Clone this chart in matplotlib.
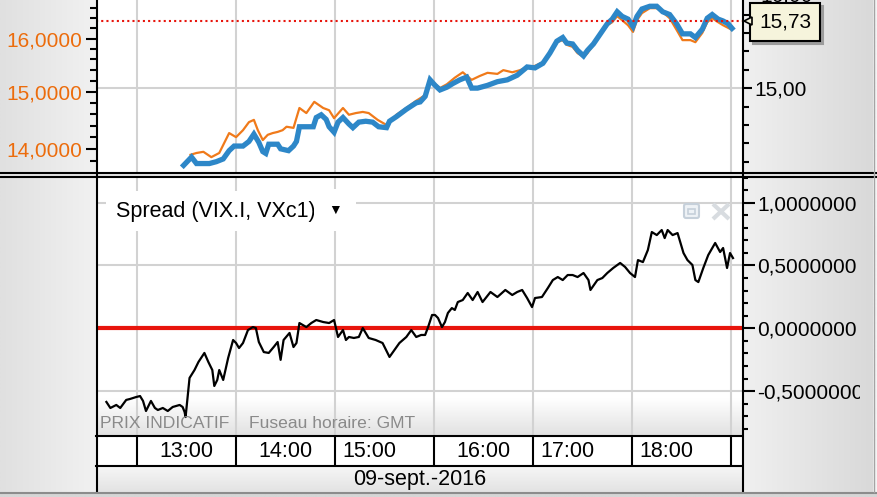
import numpy as np
import matplotlib
matplotlib.use("Agg")
import matplotlib.pyplot as plt
from matplotlib.colors import to_rgb
from matplotlib.patches import FancyBboxPatch
from matplotlib.ticker import FixedLocator, FuncFormatter, NullFormatter
from matplotlib.transforms import Bbox, blended_transform_factory, offset_copy

plt.rcParams['font.family'] = ['Liberation Sans', 'DejaVu Sans']

# --- values (time in decimal hours, GMT) ---
vix_time = [
    13.47, 13.55, 13.60, 13.73, 13.80, 13.87, 13.93, 13.98, 14.07, 14.13,
    14.18, 14.23, 14.27, 14.30, 14.33, 14.42, 14.45, 14.53, 14.58, 14.61,
    14.64, 14.78, 14.81, 14.86, 14.91, 14.94, 14.99, 15.03, 15.08, 15.14,
    15.18, 15.24, 15.31, 15.38, 15.44, 15.52, 15.55, 15.62, 15.72, 15.82,
    15.86, 15.91, 15.96, 16.01, 16.06, 16.13, 16.19, 16.26, 16.33, 16.38,
    16.44, 16.54, 16.64, 16.74, 16.84, 16.94, 17.02, 17.10, 17.17, 17.24,
    17.30, 17.34, 17.40, 17.45, 17.51, 17.55, 17.61, 17.68, 17.75, 17.80,
    17.85, 17.90, 17.96, 18.01, 18.05, 18.10, 18.18, 18.25, 18.31, 18.38,
    18.45, 18.51, 18.59, 18.64, 18.71, 18.76, 18.81, 18.87, 18.92, 18.97,
    19.01,
]
vix_price = [
    14.16, 14.25, 14.18, 14.18, 14.20, 14.23, 14.32, 14.37, 14.37, 14.42,
    14.50, 14.41, 14.31, 14.29, 14.39, 14.39, 14.34, 14.32, 14.37, 14.42,
    14.58, 14.58, 14.68, 14.71, 14.66, 14.58, 14.52, 14.63, 14.68, 14.61,
    14.57, 14.63, 14.64, 14.63, 14.58, 14.57, 14.64, 14.69, 14.77, 14.84,
    14.85, 14.91, 15.09, 15.03, 14.98, 15.01, 15.05, 15.09, 15.12, 15.00,
    15.00, 15.03, 15.07, 15.09, 15.14, 15.23, 15.22, 15.27, 15.38, 15.51,
    15.55, 15.49, 15.48, 15.41, 15.35, 15.41, 15.48, 15.59, 15.70, 15.75,
    15.83, 15.78, 15.75, 15.67, 15.78, 15.86, 15.89, 15.89, 15.83, 15.80,
    15.70, 15.59, 15.59, 15.55, 15.64, 15.76, 15.80, 15.75, 15.73, 15.70,
    15.65,
]
vx1_time = [
    13.54, 13.60, 13.67, 13.75, 13.83, 13.93, 14.00, 14.07, 14.13, 14.18,
    14.22, 14.27, 14.32, 14.37, 14.42, 14.47, 14.51, 14.58, 14.64, 14.71,
    14.79, 14.88, 14.94, 14.99, 15.08, 15.14, 15.21, 15.28, 15.34, 15.43,
    15.52, 15.62, 15.72, 15.82, 15.91, 15.96, 16.06, 16.13, 16.21, 16.29,
    16.38, 16.46, 16.54, 16.64, 16.70, 16.79, 16.87, 16.94, 17.02, 17.10,
    17.17, 17.24, 17.30, 17.34, 17.40, 17.45, 17.51, 17.55, 17.61, 17.68,
    17.75, 17.80, 17.85, 17.90, 17.96, 18.01, 18.05, 18.10, 18.18, 18.25,
    18.31, 18.38, 18.45, 18.51, 18.59, 18.64, 18.71, 18.76, 18.81, 18.87,
    18.92, 18.97, 19.01,
]
vx1_price = [
    13.90, 13.93, 13.95, 13.86, 13.93, 14.27, 14.20, 14.32, 14.46, 14.50,
    14.32, 14.15, 14.24, 14.27, 14.29, 14.32, 14.38, 14.36, 14.71, 14.62,
    14.82, 14.71, 14.67, 14.53, 14.71, 14.59, 14.62, 14.64, 14.62, 14.50,
    14.41, 14.59, 14.71, 14.84, 14.94, 15.22, 15.07, 15.14, 15.26, 15.36,
    15.22, 15.29, 15.35, 15.33, 15.40, 15.36, 15.40, 15.46, 15.48, 15.55,
    15.72, 15.93, 15.97, 15.88, 15.84, 15.72, 15.65, 15.72, 15.88, 16.07,
    16.26, 16.32, 16.44, 16.36, 16.26, 16.13, 16.36, 16.50, 16.60, 16.60,
    16.52, 16.40, 16.17, 15.97, 15.97, 15.93, 16.11, 16.32, 16.40, 16.32,
    16.26, 16.21, 16.17,
]
spread_time = [
    12.69, 12.73, 12.79, 12.83, 12.89, 12.93, 12.99, 13.03, 13.06, 13.09,
    13.14, 13.18, 13.21, 13.26, 13.31, 13.36, 13.43, 13.46, 13.48, 13.49,
    13.53, 13.58, 13.62, 13.68, 13.72, 13.76, 13.78, 13.81, 13.83, 13.87,
    13.92, 13.97, 14.00, 14.03, 14.07, 14.12, 14.17, 14.20, 14.23, 14.28,
    14.33, 14.38, 14.42, 14.45, 14.48, 14.54, 14.58, 14.61, 14.64, 14.71,
    14.76, 14.81, 14.88, 14.94, 14.99, 15.03, 15.08, 15.11, 15.14, 15.19,
    15.24, 15.28, 15.34, 15.41, 15.48, 15.55, 15.60, 15.65, 15.72, 15.77,
    15.82, 15.87, 15.91, 15.94, 15.98, 16.01, 16.04, 16.08, 16.11, 16.14,
    16.18, 16.21, 16.24, 16.29, 16.34, 16.39, 16.44, 16.49, 16.57, 16.64,
    16.72, 16.79, 16.84, 16.89, 16.94, 16.99, 17.02, 17.09, 17.15, 17.20,
    17.25, 17.30, 17.35, 17.40, 17.45, 17.51, 17.56, 17.58, 17.65, 17.70,
    17.75, 17.81, 17.88, 17.93, 17.98, 18.03, 18.06, 18.11, 18.16, 18.20,
    18.25, 18.30, 18.33, 18.36, 18.41, 18.46, 18.52, 18.56, 18.61, 18.64,
    18.67, 18.72, 18.77, 18.84, 18.89, 18.92, 18.96, 18.99, 19.02,
]
spread_value = [
    -0.586, -0.634, -0.610, -0.634, -0.570, -0.562, -0.547, -0.539, -0.578, -0.658,
    -0.578, -0.634, -0.650, -0.634, -0.658, -0.626, -0.610, -0.626, -0.666, -0.706,
    -0.395, -0.332, -0.268, -0.196, -0.268, -0.332, -0.459, -0.411, -0.332, -0.411,
    -0.236, -0.093, -0.117, -0.157, -0.117, -0.014, 0.010, 0.002, -0.109, -0.189,
    -0.196, -0.149, -0.109, -0.251, -0.093, -0.037, -0.149, -0.117, 0.042, 0.010,
    0.042, 0.066, 0.050, 0.042, 0.066, -0.069, -0.014, -0.093, -0.069, -0.077,
    -0.069, 0.002, -0.077, -0.093, -0.117, -0.228, -0.173, -0.117, -0.069, -0.014,
    -0.069, -0.053, -0.053, 0.010, 0.106, 0.106, 0.082, 0.010, 0.050, 0.122,
    0.161, 0.146, 0.209, 0.225, 0.281, 0.225, 0.289, 0.209, 0.289, 0.249,
    0.305, 0.265, 0.289, 0.305, 0.241, 0.169, 0.241, 0.249, 0.321, 0.384,
    0.408, 0.384, 0.424, 0.424, 0.408, 0.440, 0.384, 0.305, 0.384, 0.400,
    0.440, 0.480, 0.520, 0.488, 0.440, 0.408, 0.543, 0.527, 0.623, 0.766,
    0.742, 0.782, 0.718, 0.782, 0.742, 0.758, 0.599, 0.543, 0.504, 0.384,
    0.368, 0.480, 0.583, 0.679, 0.607, 0.639, 0.480, 0.599, 0.559,
]
last_vix = 15.73
hours = [13, 14, 15, 16, 17, 18, 19]
hour_labels = ["13:00", "14:00", "15:00", "16:00", "17:00", "18:00"]
hour_align = ["center", "center", "left", "center", "left", "left"]
date_label = "09-sept.-2016"
spread_title = "Spread (VIX.I, VXc1)"

ORANGE_LINE = "#f07a1a"
ORANGE_TXT = "#ec6c0c"
BLUE = "#2d87c8"
RED = "#e8150c"
GRID = "#d2d2d2"

W, H = 877, 497
XLIM = (12.585, 19.111)


def rect(x0, y0, x1, y1):
    # pixel box (top-left origin) -> figure fraction
    return [x0 / W, 1 - y1 / H, (x1 - x0) / W, (y1 - y0) / H]


def grad(ax, x0, y0, x1, y1, c0, c1, vertical=False):
    c0, c1 = np.array(to_rgb(c0)), np.array(to_rgb(c1))
    cols = c0 + (c1 - c0) * np.linspace(0, 1, 64)[:, None]
    img = cols[:, None, :] if vertical else cols[None, :, :]
    ax.imshow(img, extent=(x0, x1, y1, y0), aspect="auto", interpolation="bilinear")


def comma(fmt):
    return FuncFormatter(lambda v, p: format(v, fmt).replace(".", ","))


fig = plt.figure(figsize=(W / 100, H / 100), dpi=100)
fig.patch.set_facecolor("#ececec")

# background chrome
bg = fig.add_axes([0, 0, 1, 1], zorder=0)
bg.set_axis_off()
grad(bg, 0, 0, 96, 492, "#e0e0e0", "#f1f1f1")
grad(bg, 743, 0, 873, 492, "#f0f0f0", "#d9d9d9")
grad(bg, 873, 0, 877, 492, "#f4f4f4", "#f4f4f4")
grad(bg, 96, 0, 742, 436, "#ffffff", "#ffffff")
grad(bg, 96, 398, 742, 435, "#ffffff", "#e2e2e2", vertical=True)
grad(bg, 96, 436, 742, 466, "#ffffff", "#ffffff")
grad(bg, 96, 466, 742, 492, "#f6f6f6", "#e3e3e3", vertical=True)
grad(bg, 0, 173, 877, 177, "#e6e6e6", "#e6e6e6")
grad(bg, 0, 492, 877, 497, "#d6d6d6", "#d6d6d6")
bg.set_xlim(0, W)
bg.set_ylim(H, 0)

# top panel: VXc1 (orange, log scale, left) and VIX.I (blue, right)
ax = fig.add_axes(rect(96, 0, 742, 172), zorder=1)
ax.patch.set_visible(False)
ax.set_xlim(XLIM)
ax.set_yscale("log")
ax.set_ylim(13.613, 16.765)
ax.plot(vx1_time, vx1_price, color=ORANGE_LINE, lw=1.6)
ax.yaxis.set_major_locator(FixedLocator([14, 15, 16]))
ax.yaxis.set_major_formatter(comma(".4f"))
ax.yaxis.set_minor_locator(FixedLocator(np.round(np.arange(13.8, 16.75, 0.2), 1)))
ax.yaxis.set_minor_formatter(NullFormatter())
ax.tick_params(axis="y", which="both", direction="out", color="black", width=1.5,
               labelcolor=ORANGE_TXT, labelsize=15, pad=3)
ax.tick_params(axis="y", which="major", length=7)
ax.tick_params(axis="y", which="minor", length=4.5)
ax.set_xticks(hours)
ax.tick_params(axis="x", length=0, labelbottom=False)
ax.grid(axis="x", color=GRID, lw=1.5)
for s in ax.spines.values():
    s.set_visible(False)
ax.annotate("17,0000", xy=(0, 17), xycoords=("axes fraction", "data"), xytext=(-14, 0),
            textcoords="offset pixels", ha="right", va="center", fontsize=15,
            color=ORANGE_TXT, annotation_clip=False)

axr = ax.twinx()
axr.set_zorder(2)
axr.set_ylim(14.088, 15.958)
axr.plot(vix_time, vix_price, color=BLUE, lw=3.8, solid_joinstyle="miter")
axr.axhline(last_vix, color=RED, lw=1.5, ls=(0, (1, 1.5)), zorder=5)
axr.yaxis.set_major_locator(FixedLocator([15, 16]))
axr.yaxis.set_major_formatter(comma(".2f"))
axr.yaxis.set_minor_locator(FixedLocator(np.round(np.arange(14.2, 15.95, 0.2), 1)))
axr.yaxis.set_minor_formatter(NullFormatter())
axr.tick_params(axis="y", which="both", direction="out", color="black", width=1.5,
                labelsize=15, pad=2)
axr.tick_params(axis="y", which="major", length=7)
axr.tick_params(axis="y", which="minor", length=5)
axr.grid(axis="y", which="major", color=GRID, lw=1.5)
for s in axr.spines.values():
    s.set_visible(False)
axr.annotate("16,00", xy=(1, 16), xycoords=("axes fraction", "data"), xytext=(18, 0),
             textcoords="offset pixels", ha="left", va="center", fontsize=15,
             annotation_clip=False)

# last value tooltip
tip = format(last_vix, ".2f").replace(".", ",")
tip_kw = dict(xy=(1, last_vix), xycoords=("axes fraction", "data"), textcoords="offset pixels",
              ha="center", va="center", fontsize=15, annotation_clip=False, zorder=6)
axr.annotate(tip, xytext=(46, -4), color="#9c9c9c",
             bbox=dict(boxstyle="square,pad=0.45", fc="#9c9c9c", ec="#9c9c9c", lw=1.5), **tip_kw)
axr.annotate(tip, xytext=(43, -1), color="black",
             bbox=dict(boxstyle="square,pad=0.45", fc="#f6f4dc", ec="black", lw=1.5), **tip_kw)
notch = offset_copy(blended_transform_factory(axr.transAxes, axr.transData), fig=fig,
                    x=6, y=0, units="dots")
axr.plot([1], [last_vix], marker="<", ms=6, mfc="#f6f4dc", mec="black", mew=1.2,
         transform=notch, clip_on=False, zorder=7)

# bottom panel: spread
axs = fig.add_axes(rect(96, 177, 742, 435), zorder=1)
axs.patch.set_visible(False)
axs.set_xlim(XLIM)
axs.set_ylim(-0.849, 1.204)
axs.axhline(0, color=RED, lw=3, zorder=3)
axs.plot(spread_time, spread_value, color="black", lw=1.6, zorder=4)
axs.set_xticks(hours)
axs.tick_params(axis="x", length=0, labelbottom=False)
axs.yaxis.tick_right()
axs.yaxis.set_major_locator(FixedLocator([-0.5, 0.0, 0.5, 1.0]))
axs.yaxis.set_major_formatter(comma(".7f"))
axs.yaxis.set_minor_locator(FixedLocator(np.round(np.arange(-0.8, 1.21, 0.1), 1)))
axs.yaxis.set_minor_formatter(NullFormatter())
axs.tick_params(axis="y", which="both", direction="out", color="black", width=1.5,
                labelsize=15, pad=2)
axs.tick_params(axis="y", which="major", length=9)
axs.tick_params(axis="y", which="minor", length=4.5)
axs.grid(which="major", color=GRID, lw=1.5)
for s in axs.spines.values():
    s.set_visible(False)
axs.text(0.031, 0.868, spread_title, transform=axs.transAxes, ha="left", va="center",
         fontsize=15.5, zorder=6,
         bbox=dict(boxstyle="square,pad=0.45", fc="white", ec="none"))
axs.text(0.37, 0.872, "\u25bc", transform=axs.transAxes, ha="center", va="center",
         fontsize=10, zorder=6, bbox=dict(boxstyle="square,pad=1.0", fc="white", ec="none"))

# time axis row
axt = fig.add_axes(rect(96, 436, 742, 465), zorder=1)
axt.set_axis_off()
axt.set_xlim(XLIM)
axt.set_ylim(0, 1)
axt.vlines(hours, 0, 1, color="black", lw=1.5)
for h, lab, ha in zip(hours, hour_labels, hour_align):
    axt.text(h + 0.5 if ha == "center" else h + 0.07, 0.47, lab, ha=ha, va="center",
             fontsize=15.5)

# overlay chrome: frame lines, notes, icons
ov = fig.add_axes([0, 0, 1, 1], zorder=5)
ov.set_axis_off()
ov.set_xlim(0, W)
ov.set_ylim(H, 0)
ov.plot([96.5, 96.5], [0, 492], color="black", lw=1.5)
ov.plot([742.5, 742.5], [0, 492], color="black", lw=1.5)
ov.plot([0, 877], [173, 173], color="black", lw=1.5)
ov.plot([0, 877], [176.5, 176.5], color="black", lw=1.5)
ov.plot([96, 742], [436, 436], color="black", lw=1.5)
ov.plot([96, 742], [465.5, 465.5], color="black", lw=1.5)
ov.plot([0, 877], [492.5, 492.5], color="#8c8c8c", lw=1.5)
ov.plot([873.5, 873.5], [0, 492], color="#a4a4a4", lw=1)
ov.text(100, 424, "PRIX INDICATIF", color="#8a8a8a", fontsize=12.6, ha="left", va="center")
ov.text(249, 424, "Fuseau horaire: GMT", color="#8a8a8a", fontsize=12.6, ha="left", va="center")
ov.text(420, 480, date_label, fontsize=15.5, ha="center", va="center")
ov.add_patch(FancyBboxPatch((684, 204), 15, 14, boxstyle="round,pad=0,rounding_size=2",
                            fc="#eef2f6", ec="#c6d0da", lw=1.5))
ov.add_patch(FancyBboxPatch((688, 209), 7, 5, boxstyle="square,pad=0",
                            fc="none", ec="#c6d0da", lw=1.2))
ov.plot([713, 729], [204, 219], color="#d8dce0", lw=3, solid_capstyle="butt")
ov.plot([713, 729], [219, 204], color="#d8dce0", lw=3, solid_capstyle="butt")

# right axis labels of the spread panel are cut off by the panel edge
fig.canvas.draw()
clip = Bbox.from_extents(0, 0, 860, H)
for lab in axs.get_yticklabels():
    lab.set_clip_box(clip)
    lab.set_clip_on(True)

fig.savefig("out.png", dpi=100)
